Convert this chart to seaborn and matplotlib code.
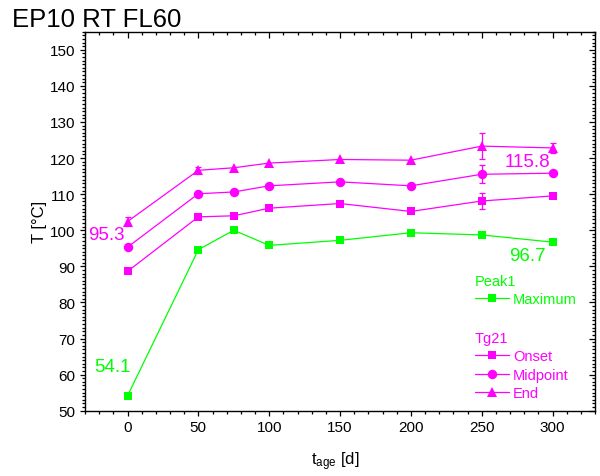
import numpy as np
import pandas as pd
import matplotlib
matplotlib.use('Agg')
import matplotlib.pyplot as plt
from matplotlib.ticker import MultipleLocator
from matplotlib.lines import Line2D
import seaborn as sns

# data
t_age = [0, 50, 75, 100, 150, 200, 250, 300]
peak1_max = [54.1, 94.6, 100.0, 95.8, 97.2, 99.3, 98.7, 96.7]
tg21_onset = [88.6, 103.7, 104.0, 106.1, 107.4, 105.2, 108.1, 109.5]
tg21_mid = [95.3, 110.1, 110.6, 112.3, 113.4, 112.3, 115.5, 115.8]
tg21_end = [102.4, 116.6, 117.3, 118.6, 119.6, 119.4, 123.3, 122.8]
err_onset = [0, 0, 0, 0, 0, 0, 2.3, 0]
err_mid = [0, 0, 0, 0, 0, 0, 2.5, 0]
err_end = [1.2, 1.0, 0, 0, 0, 0, 3.6, 1.3]

GREEN = '#00FF00'
PINK = '#FF00FF'

sns.set_style('ticks')
plt.rcParams['font.family'] = ['Liberation Sans', 'DejaVu Sans']
plt.rcParams['mathtext.fontset'] = 'custom'
plt.rcParams['mathtext.rm'] = 'Liberation Sans'
for k in ['text.color', 'axes.labelcolor', 'xtick.color', 'ytick.color']:
    plt.rcParams[k] = 'black'

df = pd.DataFrame({'t': t_age, 'max': peak1_max, 'onset': tg21_onset,
                   'mid': tg21_mid, 'end': tg21_end})

fig = plt.figure(figsize=(6, 4.77), dpi=100)
ax = fig.add_axes([85 / 600, 1 - 411.7 / 477, 510 / 600, 379 / 477])

series = [('max', GREEN, 's', 6), ('onset', PINK, 's', 6),
          ('mid', PINK, 'o', 6.8), ('end', PINK, '^', 7.2)]
for col, c, m, ms in series:
    sns.lineplot(data=df, x='t', y=col, color=c, marker=m, markersize=ms,
                 markeredgewidth=0, linewidth=0.9, ax=ax, zorder=3)

for vals, errs in [(tg21_onset, err_onset), (tg21_mid, err_mid), (tg21_end, err_end)]:
    e = np.array(errs)
    keep = e > 0
    ax.errorbar(np.array(t_age)[keep], np.array(vals)[keep], yerr=e[keep],
                fmt='none', ecolor=PINK, elinewidth=0.9, capsize=2.5,
                capthick=0.9, zorder=2)

# value annotations
ax.text(-10.5, 62.3, '54.1', color=GREEN, fontsize=13.5, ha='center', va='center')
ax.text(-14.8, 98.7, '95.3', color=PINK, fontsize=13.5, ha='center', va='center')
ax.text(282.5, 119.1, '115.8', color=PINK, fontsize=13.5, ha='center', va='center')
ax.text(282.5, 92.9, '96.7', color=GREEN, fontsize=13.5, ha='center', va='center')

ax.set_xlim(-30, 330)
ax.set_ylim(50, 155)
ax.xaxis.set_major_locator(MultipleLocator(50))
ax.xaxis.set_minor_locator(MultipleLocator(10))
ax.set_yticks(np.arange(50, 151, 10))
ax.yaxis.set_minor_locator(MultipleLocator(1))

for s in ax.spines.values():
    s.set_visible(True)
    s.set_linewidth(1.0)
    s.set_color('black')

ax.tick_params(which='both', direction='out', bottom=True, left=True,
               top=False, right=False, labelsize=11, color='black', width=0.9)
ax.tick_params(which='major', length=3.5)
ax.tick_params(which='minor', length=2.2)
# inward ticks on top and right, like the original
ax_top = ax.secondary_xaxis('top')
ax_top.set_xticks(ax.get_xticks())
ax_top.xaxis.set_minor_locator(MultipleLocator(10))
ax_top.tick_params(which='both', direction='in', labeltop=False, width=0.9)
ax_top.tick_params(which='major', length=4)
ax_top.tick_params(which='minor', length=2.2)
ax_top.spines['top'].set_visible(False)
ax_r = ax.secondary_yaxis('right')
ax_r.set_yticks(np.arange(50, 151, 10))
ax_r.yaxis.set_minor_locator(MultipleLocator(1))
ax_r.tick_params(which='both', direction='in', labelright=False, width=0.9)
ax_r.tick_params(which='major', length=4)
ax_r.tick_params(which='minor', length=2.2)
ax_r.spines['right'].set_visible(False)

ax.set_xlabel(r'$\mathregular{t_{age}}$ [d]', fontsize=12)
ax.set_ylabel('T [°C]', fontsize=12)
ax.xaxis.set_label_coords(0.49, -0.102)
ax.yaxis.set_label_coords(-0.074, 0.5)
ax.xaxis.label.set_va('top')

fig.text(12 / 600, 1 - 27 / 477, 'EP10 RT FL60', fontsize=18.5, va='baseline', ha='left')

# legends
h_max = Line2D([], [], color=GREEN, marker='s', markersize=6, markeredgewidth=0, lw=0.9)
h_on = Line2D([], [], color=PINK, marker='s', markersize=6, markeredgewidth=0, lw=0.9)
h_mid = Line2D([], [], color=PINK, marker='o', markersize=6.8, markeredgewidth=0, lw=0.9)
h_end = Line2D([], [], color=PINK, marker='^', markersize=7.2, markeredgewidth=0, lw=0.9)

leg_kw = dict(frameon=False, loc='upper left', fontsize=10.5, title_fontsize=10.5,
              handlelength=2.3, handletextpad=0.3, labelspacing=0.3, borderpad=0,
              borderaxespad=0, alignment='left', bbox_transform=fig.transFigure)
leg1 = ax.legend([h_max], ['Maximum'], title='Peak1',
                 bbox_to_anchor=(475 / 600, 1 - 275 / 477), **leg_kw)
leg1.get_title().set_color(GREEN)
for t in leg1.get_texts():
    t.set_color(GREEN)
ax.add_artist(leg1)
leg2 = ax.legend([h_on, h_mid, h_end], ['Onset', 'Midpoint', 'End'], title='Tg21',
                 bbox_to_anchor=(475 / 600, 1 - 332 / 477), **leg_kw)
leg2.get_title().set_color(PINK)
for t in leg2.get_texts():
    t.set_color(PINK)

fig.savefig('out.png', dpi=100)
